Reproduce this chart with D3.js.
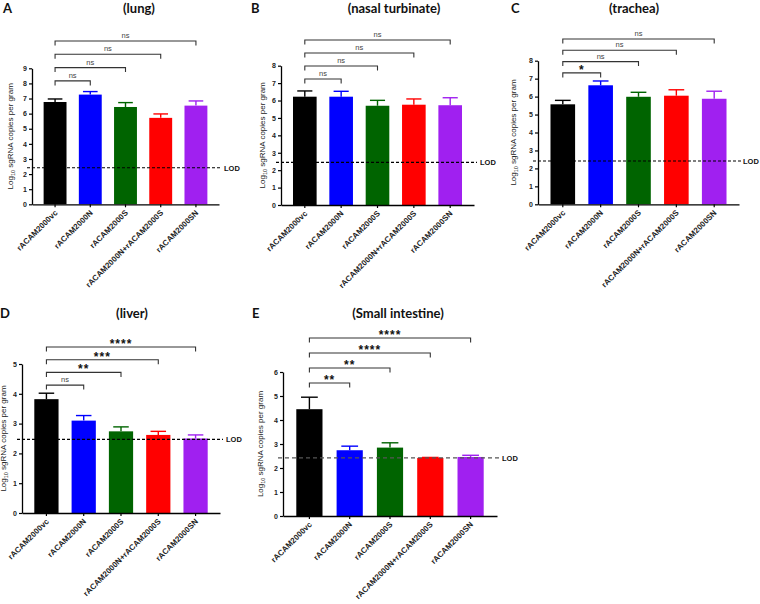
<!DOCTYPE html>
<html><head><meta charset="utf-8">
<script src="https://cdn.jsdelivr.net/npm/d3@7"></script>
<style>body{margin:0;background:#fff}svg{display:block}</style>
</head><body>
<svg id="chart" width="760" height="604"></svg>
<script>
// ---------- data ----------
const categories = ["rACAM2000vc","rACAM2000N","rACAM2000S","rACAM2000N+rACAM2000S","rACAM2000SN"];
const barColors = ["#000000","#0000ff","#006400","#ff0000","#a020f0"];

const lungMean = [6.77, 7.26, 6.44, 5.72, 6.53];
const lungErr  = [0.20, 0.20, 0.29, 0.26, 0.31];
const lungSig  = ["ns","ns","ns","ns"];

const nasalMean = [6.22, 6.22, 5.70, 5.76, 5.73];
const nasalErr  = [0.33, 0.31, 0.31, 0.33, 0.43];
const nasalSig  = ["ns","ns","ns","ns"];

const tracheaMean = [5.57, 6.63, 5.99, 6.05, 5.88];
const tracheaErr  = [0.22, 0.24, 0.25, 0.33, 0.42];
const tracheaSig  = ["*","ns","ns","ns"];

const liverMean = [3.82, 3.10, 2.74, 2.62, 2.50];
const liverErr  = [0.20, 0.17, 0.15, 0.12, 0.12];
const liverSig  = ["ns","**","***","****"];

const intestineMean = [4.45, 2.74, 2.85, 2.42, 2.46];
const intestineErr  = [0.50, 0.17, 0.20, 0.02, 0.07];
const intestineSig  = ["**","**","****","****"];

const lodValues = [2.42, 2.45, 2.41, 2.47, 2.42];
const panelTitles = ["(lung)","(nasal turbinate)","(trachea)","(liver)","(Small intestine)"];
const panelLetters = ["A","B","C","D","E"];
const yMaxes = [9, 8, 8, 5, 6];

// ---------- layout (pixels) ----------
const layouts = [
  {x0:32,  x1:219, y0:204.3, yT:68.3,  tx:139, ty:13,  lx:3,   bTop:41,  bStep:13.3, lab:19, lodDash:"3,2", lodCol:"#000", lodGap:5},
  {x0:281, x1:474, y0:205,   yT:65.7,  tx:394, ty:13,  lx:251, bTop:40,  bStep:13,   lab:16, lodDash:"3,2", lodCol:"#000", lodGap:6},
  {x0:538, x1:739, y0:204.3, yT:60.7,  tx:634, ty:13,  lx:511, bTop:39,  bStep:11.3, lab:22, lodDash:"3,2", lodCol:"#000", lodGap:4},
  {x0:22,  x1:220, y0:513,   yT:364,   tx:132, ty:318, lx:0,   bTop:347, bStep:12.7, lab:16.5, lodDash:"3,2", lodCol:"#000", lodGap:6},
  {x0:283, x1:497, y0:516,   yT:372,   tx:398, ty:318, lx:252, bTop:338, bStep:15,   lab:20, lodDash:"4,3", lodCol:"#555", lodGap:5}
];

const means = [lungMean, nasalMean, tracheaMean, liverMean, intestineMean];
const errs  = [lungErr, nasalErr, tracheaErr, liverErr, intestineErr];
const sigs  = [lungSig, nasalSig, tracheaSig, liverSig, intestineSig];

const svg = d3.select("#chart");
svg.append("rect").attr("width",760).attr("height",604).attr("fill","#fff");
const AX = "'Liberation Sans', Arial, sans-serif";
const TF = "Lato, 'Open Sans', sans-serif";

layouts.forEach((L, p) => {
  const g = svg.append("g");
  const x = d3.scaleBand().domain(categories).range([L.x0, L.x1]).paddingInner(0.35).paddingOuter(0.33);
  const y = d3.scaleLinear().domain([0, yMaxes[p]]).range([L.y0, L.yT]);

  // title + letter
  g.append("text").attr("x", L.tx).attr("y", L.ty).attr("text-anchor","middle")
    .attr("font-family", TF).attr("font-weight","bold").attr("font-size",13).attr("fill","#111")
    .text(panelTitles[p]);
  g.append("text").attr("x", L.lx).attr("y", L.ty).attr("font-family", TF)
    .attr("font-weight","bold").attr("font-size",13).attr("fill","#111").text(panelLetters[p]);

  // bars
  const rows = categories.map((c,i)=>({c, m:means[p][i], e:errs[p][i], col:barColors[i]}));
  g.selectAll("rect.bar").data(rows).join("rect").attr("class","bar")
    .attr("x", d=>x(d.c)).attr("width", x.bandwidth())
    .attr("y", d=>y(d.m)).attr("height", d=>y(0)-y(d.m)).attr("fill", d=>d.col);

  // error bars (upper only)
  const cw = x.bandwidth()*0.32;
  rows.forEach(d=>{
    const cx = x(d.c)+x.bandwidth()/2;
    g.append("line").attr("x1",cx).attr("x2",cx).attr("y1",y(d.m)).attr("y2",y(d.m+d.e))
      .attr("stroke",d.col).attr("stroke-width",1.4);
    g.append("line").attr("x1",cx-cw).attr("x2",cx+cw).attr("y1",y(d.m+d.e)).attr("y2",y(d.m+d.e))
      .attr("stroke",d.col).attr("stroke-width",1.4);
  });

  // y axis
  const ya = g.append("g").attr("transform",`translate(${L.x0},0)`)
    .call(d3.axisLeft(y).ticks(yMaxes[p]).tickSize(3).tickSizeOuter(0).tickPadding(2).tickFormat(d3.format("d")));
  ya.select(".domain").attr("stroke","#000").attr("stroke-width",1.3);
  ya.selectAll(".tick line").attr("stroke","#000").attr("stroke-width",1.2);
  ya.selectAll(".tick text").attr("font-family",AX).attr("font-weight","bold").attr("font-size",7).attr("fill","#222");

  // x axis
  const xa = g.append("g").attr("transform",`translate(0,${L.y0})`)
    .call(d3.axisBottom(x).tickSize(3).tickSizeOuter(0).tickFormat(""));
  xa.select(".domain").attr("stroke","#000").attr("stroke-width",1.3);
  xa.selectAll(".tick line").attr("stroke","#000").attr("stroke-width",1.2);
  categories.forEach(c=>{
    const cx = x(c)+x.bandwidth()/2;
    g.append("text").attr("transform",`translate(${cx+3},${L.y0+9}) rotate(-45)`)
      .attr("text-anchor","end").attr("font-family",AX).attr("font-weight","bold")
      .attr("font-size",8).attr("fill","#222").text(c);
  });

  // y label
  const yl = g.append("text").attr("transform",`translate(${L.x0-L.lab},${(L.y0+L.yT)/2}) rotate(-90)`)
    .attr("text-anchor","middle").attr("font-family",AX).attr("font-size",8).attr("fill","#222");
  yl.append("tspan").text("Log");
  yl.append("tspan").attr("font-size",5.5).attr("dy",2).text("10");
  yl.append("tspan").attr("dy",-2).text(" sgRNA copies per gram");

  // LOD line
  g.append("line").attr("x1",L.x0-5).attr("x2",L.x1+3).attr("y1",y(lodValues[p])).attr("y2",y(lodValues[p]))
    .attr("stroke",L.lodCol).attr("stroke-width",1.1).attr("stroke-dasharray",L.lodDash);
  g.append("text").attr("x",L.x1+L.lodGap).attr("y",y(lodValues[p])+3).attr("font-family",AX)
    .attr("font-weight","bold").attr("font-size",7.5).attr("fill","#111").text("LOD");

  // significance brackets
  const c0 = x(categories[0])+x.bandwidth()/2;
  sigs[p].forEach((s,k)=>{
    const cx = x(categories[k+1])+x.bandwidth()/2;
    const by = L.bTop + (3-k)*L.bStep;
    g.append("path").attr("d",`M${c0},${by+4.5}V${by}H${cx}V${by+4.5}`)
      .attr("fill","none").attr("stroke","#333").attr("stroke-width",1.1);
    const isNs = s==="ns";
    g.append("text").attr("x",(c0+cx)/2).attr("y", isNs ? by-3 : by+1).attr("text-anchor","middle")
      .attr("font-family",AX).attr("font-weight", isNs ? "normal":"bold")
      .attr("letter-spacing", isNs ? 0 : 1)
      .attr("font-size", isNs ? 7.5 : 12).attr("fill", isNs ? "#444":"#111").text(s);
  });
});
</script>
</body></html>
